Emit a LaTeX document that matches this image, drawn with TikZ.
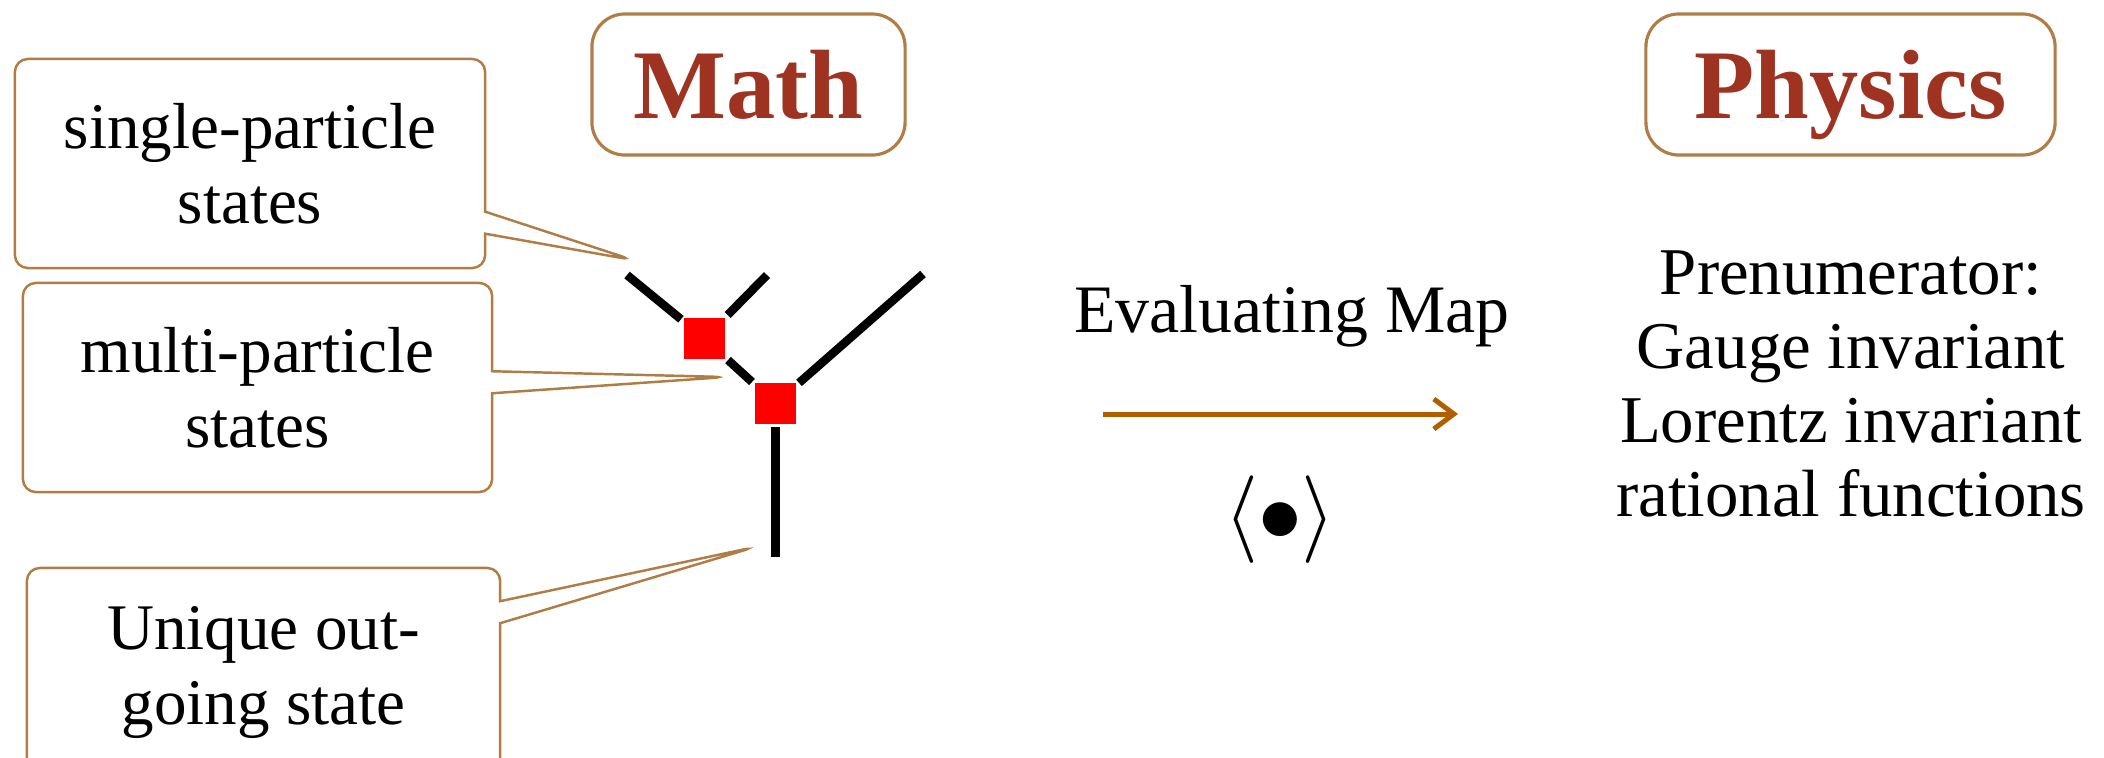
\documentclass[tikz,border=0pt]{standalone}
\usepackage{fontspec}
\setmainfont{Liberation Serif}
\usetikzlibrary{shapes.callouts, arrows.meta}
\definecolor{calloutbrown}{RGB}{176,125,70}
\definecolor{titlered}{RGB}{158,51,34}
\definecolor{maparrow}{RGB}{176,94,0}

\begin{document}
\begin{tikzpicture}[x=0.01cm, y=-0.01cm,
    headbox/.style={rectangle, rounded corners=0.33cm, draw=calloutbrown, line width=0.9pt, minimum height=1.41cm, text depth=0pt, text=titlered, font=\fontsize{28}{30}\selectfont\bfseries},
    note/.style={rectangle callout, rounded corners=0.13cm, draw=calloutbrown, line width=0.7pt, fill=white, minimum width=4.7cm, minimum height=2.09cm, inner sep=0pt, align=center, callout pointer width=0.22cm, font=\fontsize{18.5}{21.3}\selectfont},
    vertex/.style={rectangle, fill=red, minimum size=0.41cm, inner sep=0pt, outer sep=0.03cm},
    leg/.style={line width=0.085cm},
    evmap/.style={-{Straight Barb[length=0.2cm, width=0.3cm]}, line width=0.05cm, maparrow}
]
\useasboundingbox (0,0) rectangle (2104,757);

\node[headbox, minimum width=3.13cm] (math) at (748.5,84.5) {Math};
\node[headbox, minimum width=4.09cm] (phys) at (1850.5,84.5) {Physics};

\coordinate (sptip) at (633,260);
\coordinate (mptip) at (726,377);
\coordinate (uotip) at (755,547);
\node[note, callout absolute pointer={(sptip)}] (single) at (250,163.5) {single-particle\\states};
\node[note, minimum width=4.69cm, callout absolute pointer={(mptip)}] (multi) at (257.5,387.5) {multi-particle\\states};
\node[note, minimum width=4.73cm, callout absolute pointer={(uotip)}] (unique) at (263.5,672.5) {Unique out-\\going state};

% tree
\node[vertex] (v1) at (704.5,338.5) {};
\node[vertex] (v2) at (775.5,403.5) {};
\coordinate (in1) at (627,275);
\coordinate (in2) at (767,275);
\coordinate (in3) at (923,274);
\coordinate (out) at (775.5,557);
\draw[leg] (in1) -- (v1);
\draw[leg] (in2) -- (v1);
\draw[leg] (v1) -- (v2);
\draw[leg] (in3) -- (v2);
\draw[leg] (v2) -- (out);

% evaluating map
\coordinate (mapstart) at (1103,414);
\coordinate (mapend) at (1458,414);
\draw[evmap] (mapstart) -- (mapend);
\node[font=\fontsize{19.3}{22}\selectfont, anchor=base] (evtext) at (1292,332) {Evaluating Map};
\node[font=\fontsize{29}{32}\selectfont] (bracket) at (1280,520) {$\langle\bullet\rangle$};

\node[font=\fontsize{19}{21}\selectfont, align=center] (prenum) at (1851,384) {Prenumerator:\\Gauge invariant\\Lorentz invariant\\rational functions};
\end{tikzpicture}
\end{document}
